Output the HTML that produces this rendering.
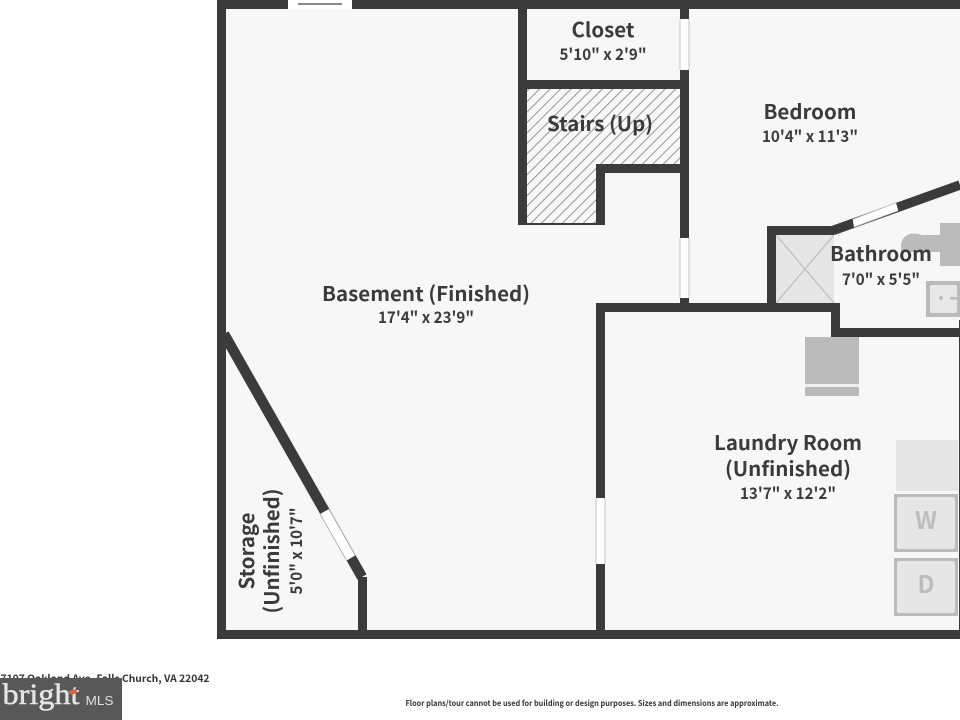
<!DOCTYPE html>
<html><head><meta charset="utf-8"><style>
html,body{margin:0;padding:0;background:#fff;width:960px;height:720px;overflow:hidden}
svg{display:block}
text{font-family:"Noto Sans CJK JP","DejaVu Sans",sans-serif;fill:#3b3b3b;text-anchor:middle;dominant-baseline:auto}
.t{font-size:20px;font-weight:700}
.s{font-size:16px;font-weight:700}
</style></head><body>
<svg width="960" height="720" viewBox="0 0 960 720" xmlns="http://www.w3.org/2000/svg">
<defs><pattern id="h" width="7.4" height="7.4" patternUnits="userSpaceOnUse" patternTransform="rotate(45)"><rect width="7.4" height="7.4" fill="#f7f7f7"/><rect x="0" width="0.9" height="7.4" fill="#8a8a8a"/></pattern></defs>
<rect x="217" y="0" width="743" height="639" fill="#f7f7f7"/>
<path d="M527 89H680V164H596V224H527Z" fill="url(#h)"/>
<rect x="776" y="235" width="58" height="68" fill="#e6e6e6"/>
<path d="M776 235L834 303M834 235L776 303" stroke="#bdbdbd" stroke-width="1.2"/>
<g fill="#bbb">
<rect x="940" y="223" width="20" height="43"/>
<path d="M940 235H922C908 230 901 238 901 246V252H940Z"/>
<rect x="926" y="281" width="34" height="36"/>
<rect x="805" y="337" width="54" height="59"/>
<rect x="894" y="494" width="64" height="58"/>
<rect x="894" y="558" width="64" height="58"/>
</g>
<rect x="930" y="285" width="27" height="28" rx="2" fill="#e8e8e8"/>
<circle cx="941" cy="298" r="2" fill="#bbb"/><rect x="950" y="297" width="7" height="2.5" fill="#bbb"/>
<rect x="805" y="384" width="54" height="3" fill="#efefef"/>
<rect x="896" y="440" width="62" height="51" fill="#e6e6e6"/>
<rect x="897" y="497" width="58" height="52" rx="2" fill="#e6e6e6"/>
<rect x="897" y="561" width="58" height="52" rx="2" fill="#e6e6e6"/>
<g fill="#3b3b3b">
<rect x="217" y="0" width="743" height="9"/>
<rect x="217" y="0" width="9" height="639"/>
<rect x="217" y="630" width="743" height="9"/>
<rect x="959" y="320" width="1" height="319"/>
<rect x="518" y="0" width="9" height="225"/>
<rect x="518" y="80" width="171" height="9"/>
<rect x="680" y="0" width="9" height="312"/>
<rect x="596" y="164" width="93" height="9"/>
<rect x="596" y="164" width="9" height="61"/>
<rect x="527" y="223" width="78" height="2"/>
<rect x="596" y="303" width="244" height="9"/>
<rect x="596" y="303" width="9" height="336"/>
<rect x="767" y="226" width="9" height="86"/>
<rect x="767" y="226" width="67" height="9"/>
<rect x="831" y="303" width="9" height="34"/>
<rect x="831" y="328" width="129" height="9"/>
<rect x="358" y="577" width="9" height="62"/>
</g>
<path d="M833 230.500L960 185" stroke="#3b3b3b" stroke-width="9.500" fill="none"/>
<path d="M224 334L362 577" stroke="#3b3b3b" stroke-width="10.500" fill="none"/>
<rect x="288" y="0" width="64" height="9" fill="#fff"/>
<rect x="298" y="3" width="44" height="2" fill="#888"/>
<rect x="680" y="19" width="9" height="51" fill="#fff"/>
<rect x="680" y="238" width="9" height="60" fill="#fff"/>
<rect x="596" y="498" width="9" height="66" fill="#fff"/>
<path d="M680 19V70M689 19V70M680 238V298M689 238V298M596 498V564M605 498V564" stroke="#c4c4c4" stroke-width="1" fill="none"/>
<path d="M852.700 219.300L896 202.700L898.300 210.700L854 227.300Z" fill="#fff"/>
<path d="M852.700 219.300L896 202.700M854 227.300L898.300 210.700" stroke="#aaa" stroke-width="0.8" fill="none"/>
<path d="M320.100 514L328.900 509L355.300 555.500L346.600 560.500Z" fill="#fff"/>
<path d="M320.100 514L346.600 560.500M328.900 509L355.300 555.500" stroke="#aaa" stroke-width="0.8" fill="none"/>
<text class="t" x="603" y="37" textLength="63" lengthAdjust="spacingAndGlyphs">Closet</text>
<text class="s" x="603" y="60" textLength="87" lengthAdjust="spacingAndGlyphs">5'10" x 2'9"</text>
<text class="t" x="600" y="131" textLength="106" lengthAdjust="spacingAndGlyphs">Stairs (Up)</text>
<text class="t" x="810" y="119" textLength="93" lengthAdjust="spacingAndGlyphs">Bedroom</text>
<text class="s" x="810" y="142" textLength="96" lengthAdjust="spacingAndGlyphs">10'4" x 11'3"</text>
<text class="t" x="881" y="261" textLength="102" lengthAdjust="spacingAndGlyphs">Bathroom</text>
<text class="s" x="881" y="285" textLength="78" lengthAdjust="spacingAndGlyphs">7'0" x 5'5"</text>
<text class="t" x="426" y="301" textLength="208" lengthAdjust="spacingAndGlyphs">Basement (Finished)</text>
<text class="s" x="426" y="323" textLength="96" lengthAdjust="spacingAndGlyphs">17'4" x 23'9"</text>
<text class="t" x="788" y="450" textLength="148" lengthAdjust="spacingAndGlyphs">Laundry Room</text>
<text class="t" x="788" y="476" textLength="126" lengthAdjust="spacingAndGlyphs">(Unfinished)</text>
<text class="s" x="788" y="499" textLength="96" lengthAdjust="spacingAndGlyphs">13'7" x 12'2"</text>
<text class="t" transform="translate(254 551) rotate(-90)" textLength="77" lengthAdjust="spacingAndGlyphs">Storage</text>
<text class="t" transform="translate(279 551) rotate(-90)" textLength="125" lengthAdjust="spacingAndGlyphs">(Unfinished)</text>
<text class="s" transform="translate(302 551) rotate(-90)" textLength="87" lengthAdjust="spacingAndGlyphs">5'0" x 10'7"</text>
<text x="926" y="529" font-size="24" font-weight="700" style="fill:#bdbdbd">W</text>
<text x="926" y="593" font-size="24" font-weight="700" style="fill:#bdbdbd">D</text>
<text x="105" y="682" font-size="10" font-weight="700" style="fill:#333" textLength="209" lengthAdjust="spacingAndGlyphs">7107 Oakland Ave, Falls Church, VA 22042</text>
<text x="592" y="706" font-size="8" font-weight="700" style="fill:#333" textLength="373" lengthAdjust="spacingAndGlyphs">Floor plans/tour cannot be used for building or design purposes. Sizes and dimensions are approximate.</text>
<rect x="0" y="678" width="122" height="42" fill="#585858"/>
<text x="41" y="704" font-size="30" style="font-family:'Liberation Serif',serif;fill:#e4e4e4;stroke:#e4e4e4;stroke-width:0.5" textLength="77" lengthAdjust="spacingAndGlyphs">bright</text>
<text x="99.500" y="705" font-size="13" style="font-family:'Liberation Sans',sans-serif;fill:#e0e0e0" textLength="28" lengthAdjust="spacingAndGlyphs">MLS</text>
<path d="M68 691l8-2 1 4-6 2z" fill="#d9634a"/>
</svg>
</body></html>
